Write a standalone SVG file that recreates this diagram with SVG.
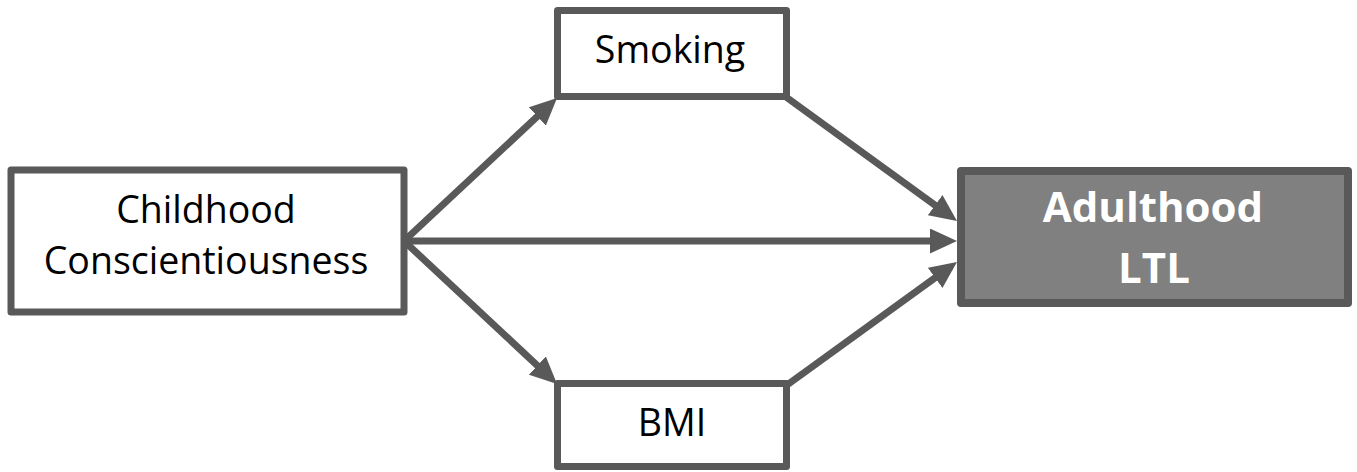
<svg xmlns="http://www.w3.org/2000/svg" width="1357" height="472" viewBox="0 0 1357 472">
<style>
.box{fill:#ffffff;stroke:#595959;stroke-width:7;stroke-linejoin:round}
.dark{fill:#808080;stroke:#595959;stroke-width:8;stroke-linejoin:round}
.lbl{font-family:"Open Sans","Liberation Sans",sans-serif;font-size:37.5px;fill:#000;text-anchor:middle}
.wlbl{font-family:"Open Sans","Liberation Sans",sans-serif;font-size:42px;font-weight:bold;fill:#fff;text-anchor:middle}
.conn{stroke:#595959;stroke-width:7;fill:none;marker-end:url(#ah)}
</style>
<defs>
<marker id="ah" markerUnits="userSpaceOnUse" markerWidth="27" markerHeight="25" refX="19" refY="12.5" orient="auto">
<path d="M0,0 L27,12.5 L0,25 z" fill="#595959"/>
</marker>
</defs>
<g id="connectors">
<line class="conn" x1="404" y1="241" x2="551.2" y2="103.5"/>
<line class="conn" x1="404" y1="241" x2="551.2" y2="378.5"/>
<line class="conn" x1="404" y1="241" x2="949" y2="241"/>
<line class="conn" x1="786" y1="97" x2="950.5" y2="216.3"/>
<line class="conn" x1="787" y1="385" x2="950.5" y2="266.7"/>
</g>
<g id="childhood">
<rect class="box" x="11" y="170" width="393" height="142"/>
<text class="lbl" x="206" y="223">Childhood</text>
<text class="lbl" x="206" y="274">Conscientiousness</text>
</g>
<g id="smoking">
<rect class="box" x="557.5" y="10.5" width="229" height="86"/>
<text class="lbl" x="670" y="63">Smoking</text>
</g>
<g id="bmi">
<rect class="box" x="557.5" y="383.5" width="229" height="83"/>
<text class="lbl" x="672" y="436">BMI</text>
</g>
<g id="adulthood">
<rect class="dark" x="961" y="171" width="387" height="132"/>
<text class="wlbl" x="1153" y="222">Adulthood</text>
<text class="wlbl" x="1154" y="283">LTL</text>
</g>
</svg>
